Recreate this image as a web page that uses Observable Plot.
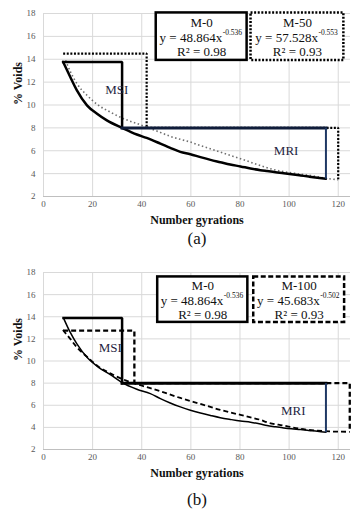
<!DOCTYPE html>
<html><head><meta charset="utf-8">
<script src="https://cdn.jsdelivr.net/npm/d3@7"></script>
<script src="https://cdn.jsdelivr.net/npm/@observablehq/plot@0.6"></script>
<style>
body{margin:0;background:#fff;width:356px;overflow:hidden;}
svg{display:block;}
svg text, svg tspan{font-family:"Liberation Serif","Times New Roman",serif !important;}
</style></head><body><div id="chart"></div>
<script>
// ---- axes ----
const xTicks = [0, 20, 40, 60, 80, 100, 120];
const yTicks = [2, 4, 6, 8, 10, 12, 14, 16, 18];
const xLabel = "Number gyrations";
const yLabel = "% Voids";

// ---- panel (a) series: [gyrations, % voids] ----
const m0A = [[8,13.76],[10.9,12.45],[13.6,11.28],[17.7,9.97],[21.8,9.24],[25.8,8.66],[32,8.0],[38,7.42],[42,7.12],[47.6,6.62],[51.6,6.25],[55.7,5.9],[59.8,5.7],[63.9,5.44],[68,5.2],[72,5.0],[76,4.8],[80.2,4.63],[84.3,4.45],[88.3,4.3],[91,4.22],[94.5,4.12],[97.8,4.04],[101,3.95],[104.7,3.84],[108,3.74],[111.5,3.64],[115,3.55]];
const m50A = [[9,13.9],[11,12.89],[13.6,11.87],[17.7,10.85],[22.4,9.97],[27.2,9.38],[32.6,8.8],[38.1,8.38],[42.2,8.05],[47.6,7.6],[51.6,7.26],[55.7,7.0],[59.8,6.76],[63.9,6.45],[67.9,6.18],[72,5.88],[76.1,5.59],[80.2,5.3],[84.3,5.0],[89.7,4.6],[95.1,4.28],[101.9,4.04],[108.7,3.84],[115.5,3.58],[120,3.46]];
// MSI / MRI brackets (a)
const msiSolidA = [[8,13.76],[32,13.76],[32,8]];
const mriTopA = [[32,8],[115,8]];
const mriRightA = [[115,8],[115,3.55]];
const msiDotA = [[8,14.5],[42,14.5],[42,8]];
const mriDotA = [[42,8],[120,8],[120,3.5]];
const boxesA = [
  {name:"M-0", coef:"48.864", exp:"-0.536", r2:"0.98", x1:45.9, x2:82.9, y1:13.9, y2:18.05, dash:null},
  {name:"M-50", coef:"57.528", exp:"-0.553", r2:"0.93", x1:84.5, x2:122.3, y1:13.9, y2:18.05, dash:"2,1.6"}
];
const regionLabelsA = [{t:"MSI", x:29.8, y:11.3},{t:"MRI", x:98.8, y:6.03}];

// ---- panel (b) series ----
const m0B = [[8.15,13.88],[10.9,12.58],[13.6,11.54],[17.7,10.33],[22.4,9.43],[27.2,8.77],[32,8.05],[38,7.45],[43.5,7.05],[47.6,6.6],[51.6,6.2],[55.7,5.85],[59.8,5.55],[63.9,5.3],[68,5.08],[72,4.88],[76,4.72],[80.2,4.57],[84.3,4.47],[88.3,4.3],[91,4.16],[94.5,4.05],[97.8,3.95],[101,3.87],[104.7,3.8],[108,3.72],[111.5,3.65],[115,3.56]];
const m100B = [[7.9,12.8],[10.9,12.0],[13.6,11.23],[17.7,10.39],[22.4,9.49],[27.2,8.88],[32.6,8.32],[38.1,7.9],[43.5,7.55],[47.6,7.26],[55.7,6.66],[63.9,6.12],[72,5.58],[80.2,5.13],[84.3,4.9],[88.3,4.68],[91,4.46],[97.8,4.16],[104.7,3.87],[111.5,3.71],[118.3,3.62],[124.7,3.6]];
const msiSolidB = [[8.15,13.88],[32,13.88],[32,8]];
const mriTopB = [[32,8],[115,8]];
const mriRightB = [[115,8],[115,3.56]];
const msiDashB = [[8,12.74],[37,12.74],[37,8]];
const mriDashB = [[37,8],[124.7,8],[124.7,3.6]];
const boxesB = [
  {name:"M-0", coef:"48.864", exp:"-0.536", r2:"0.98", x1:46.5, x2:83.2, y1:13.49, y2:17.6, dash:null},
  {name:"M-100", coef:"45.683", exp:"-0.502", r2:"0.93", x1:85.6, x2:122.6, y1:13.49, y2:17.6, dash:"5,2.5"}
];
const regionLabelsB = [{t:"MSI", x:27.2, y:11.23},{t:"MRI", x:101.7, y:5.52}];

const X = d => d[0], Y = d => d[1];
const serif = "Liberation Serif";

function boxMarks(boxes) {
  const marks = [];
  for (const b of boxes) {
    marks.push(Plot.rect([b], {x1:"x1", x2:"x2", y1:"y1", y2:"y2", fill:"white", stroke:"black", strokeWidth:2.5, strokeDasharray: b.dash || undefined}));
  }
  const cx = d => (d.x1 + d.x2) / 2, cy = d => (d.y1 + d.y2) / 2;
  const t = {fontFamily: serif, fill: "#111"};
  marks.push(Plot.text(boxes, {...t, x:cx, y:cy, text:d=>d.name, dy:-14, fontSize:13}));
  marks.push(Plot.text(boxes, {...t, x:cx, y:cy, text:d=>`y = ${d.coef}x`, dy:1, dx:20.5, textAnchor:"end", fontSize:13}));
  marks.push(Plot.text(boxes, {...t, x:cx, y:cy, text:d=>d.exp, dy:-4, dx:21, textAnchor:"start", fontSize:7.5}));
  marks.push(Plot.text(boxes, {...t, x:cx, y:cy, text:d=>`R² = ${d.r2}`, dy:15, fontSize:13}));
  return marks;
}

function panel(cfg) {
  return Plot.plot({
    width: 356, height: cfg.height,
    marginLeft: 43, marginRight: 6, marginTop: cfg.mt, marginBottom: cfg.mb,
    x: {domain: [0, 125]},
    y: {domain: [2, 18]},
    style: {fontFamily: serif, color: "#595959", background: "#fff"},
    marks: [
      Plot.gridX({ticks: xTicks, stroke: "#d9d9d9", strokeOpacity: 1}),
      Plot.gridY({ticks: yTicks, stroke: "#d9d9d9", strokeOpacity: 1}),
      Plot.ruleY([2], {stroke: "#bfbfbf"}),
      Plot.axisX({ticks: xTicks, tickSize: 0, tickPadding: 4, fontSize: 9, fontFamily: serif, label: null}),
      Plot.axisY({ticks: yTicks, tickSize: 0, tickPadding: 8, fontSize: 9, fontFamily: serif, label: null}),
      ...cfg.marks,
      ...boxMarks(cfg.boxes),
      Plot.text(cfg.regionLabels, {x:"x", y:"y", text:"t", fontSize:13, fontFamily: serif, fill:"#1f1f3f"}),
      Plot.text([xLabel], {text: d => d, frameAnchor: "bottom", dy: 27, fontWeight: "bold", fontSize: 12, fontFamily: serif, fill: "#111"}),
      Plot.text([yLabel], {text: d => d, frameAnchor: "left", dx: -25, rotate: -90, fontWeight: "bold", fontSize: 12, fontFamily: serif, fill: "#111"}),
      Plot.text([cfg.caption], {text: d => d, frameAnchor: "bottom", dy: cfg.capDy, fontSize: 17, fontFamily: serif, fill: "#111"})
    ]
  });
}

const dotBox = {stroke:"black", strokeWidth:2.2, strokeDasharray:"2,1.6", strokeLinecap:"butt", strokeLinejoin:"miter"};
const dashBox = {stroke:"black", strokeWidth:2.3, strokeDasharray:"5,3", strokeLinecap:"butt", strokeLinejoin:"miter"};
const solidBox = {strokeLinecap:"square", strokeLinejoin:"miter"};

const panelA = panel({
  height: 254, mt: 13, mb: 58, caption: "(a)", capDy: 47,
  boxes: boxesA, regionLabels: regionLabelsA,
  marks: [
    Plot.line(msiDotA, {x:X, y:Y, ...dotBox}),
    Plot.line(mriDotA, {x:X, y:Y, ...dotBox}),
    Plot.line(m50A, {x:X, y:Y, stroke:"#6f6f6f", strokeWidth:1.6, strokeDasharray:"1.5,2.5", strokeLinecap:"butt", curve:"monotone-x"}),
    Plot.line(m0A, {x:X, y:Y, stroke:"black", strokeWidth:2.5, curve:"monotone-x"}),
    Plot.line(msiSolidA, {x:X, y:Y, stroke:"black", strokeWidth:2.5, ...solidBox}),
    Plot.line(mriTopA, {x:X, y:Y, stroke:"#0f1c3a", strokeWidth:3, ...solidBox}),
    Plot.line(mriRightA, {x:X, y:Y, stroke:"#1f3864", strokeWidth:2, strokeLinecap:"butt"})
  ]
});

const panelB = panel({
  height: 261, mt: 18, mb: 66, caption: "(b)", capDy: 55,
  boxes: boxesB, regionLabels: regionLabelsB,
  marks: [
    Plot.line(msiDashB, {x:X, y:Y, ...dashBox}),
    Plot.line(mriDashB, {x:X, y:Y, ...dashBox}),
    Plot.line(m100B, {x:X, y:Y, stroke:"black", strokeWidth:1.8, strokeDasharray:"5,3", strokeLinecap:"butt", curve:"monotone-x"}),
    Plot.line(m0B, {x:X, y:Y, stroke:"black", strokeWidth:1.5, curve:"monotone-x"}),
    Plot.line(msiSolidB, {x:X, y:Y, stroke:"black", strokeWidth:2.5, ...solidBox}),
    Plot.line(mriTopB, {x:X, y:Y, stroke:"black", strokeWidth:3, ...solidBox}),
    Plot.line(mriRightB, {x:X, y:Y, stroke:"#1f3864", strokeWidth:2, strokeLinecap:"butt"})
  ]
});

const root = document.getElementById("chart");
root.appendChild(panelA);
root.appendChild(panelB);
</script>
</body></html>
